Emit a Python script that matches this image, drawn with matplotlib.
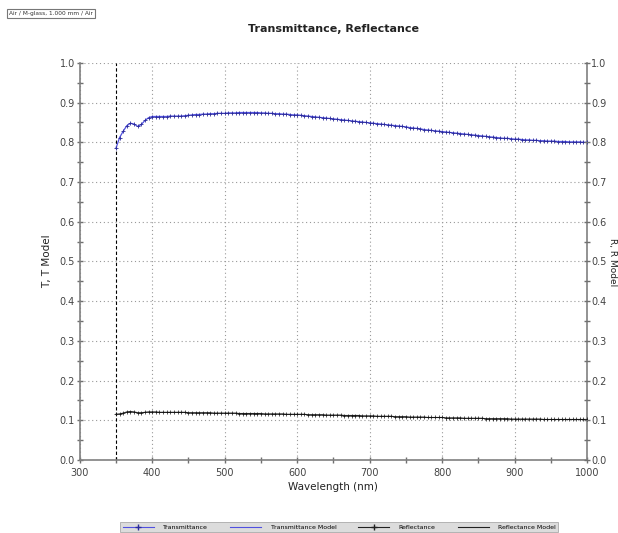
import numpy as np
import matplotlib
matplotlib.use("Agg")
import matplotlib.pyplot as plt
from matplotlib.ticker import MultipleLocator, FormatStrFormatter
from matplotlib.lines import Line2D

wavelength = np.arange(350, 1001, 5)

transmittance = [
    0.785, 0.812, 0.828, 0.842, 0.848, 0.846, 0.840, 0.845, 0.855, 0.862,
    0.865, 0.865, 0.865, 0.865, 0.865, 0.866, 0.866, 0.866, 0.866, 0.867,
    0.868, 0.869, 0.870, 0.870, 0.871, 0.871, 0.872, 0.872, 0.873, 0.873,
    0.873, 0.874, 0.874, 0.874, 0.875, 0.875, 0.875, 0.875, 0.875, 0.875,
    0.874, 0.874, 0.873, 0.873, 0.872, 0.872, 0.871, 0.871, 0.870, 0.869,
    0.869, 0.868, 0.867, 0.866, 0.865, 0.864, 0.863, 0.862, 0.861, 0.860,
    0.859, 0.858, 0.857, 0.856, 0.855, 0.854, 0.853, 0.852, 0.851, 0.850,
    0.849, 0.848, 0.847, 0.846, 0.845, 0.844, 0.843, 0.842, 0.841, 0.840,
    0.839, 0.837, 0.836, 0.835, 0.834, 0.832, 0.831, 0.830, 0.829, 0.828,
    0.827, 0.826, 0.825, 0.824, 0.823, 0.822, 0.821, 0.820, 0.819, 0.818,
    0.817, 0.816, 0.815, 0.814, 0.813, 0.812, 0.811, 0.810, 0.810, 0.809,
    0.808, 0.808, 0.807, 0.806, 0.806, 0.805, 0.805, 0.804, 0.804, 0.803,
    0.803, 0.803, 0.802, 0.802, 0.802, 0.801, 0.801, 0.801, 0.801, 0.800,
    0.800,
]

reflectance = [
    0.115, 0.116, 0.118, 0.121, 0.122, 0.121, 0.119, 0.119, 0.120, 0.121,
    0.121, 0.121, 0.120, 0.120, 0.120, 0.120, 0.120, 0.120, 0.120, 0.120,
    0.119, 0.119, 0.119, 0.119, 0.119, 0.119, 0.119, 0.118, 0.118, 0.118,
    0.118, 0.118, 0.118, 0.118, 0.117, 0.117, 0.117, 0.117, 0.117, 0.117,
    0.117, 0.116, 0.116, 0.116, 0.116, 0.116, 0.116, 0.115, 0.115, 0.115,
    0.115, 0.115, 0.115, 0.114, 0.114, 0.114, 0.114, 0.114, 0.113, 0.113,
    0.113, 0.113, 0.113, 0.112, 0.112, 0.112, 0.112, 0.112, 0.111, 0.111,
    0.111, 0.111, 0.110, 0.110, 0.110, 0.110, 0.110, 0.109, 0.109, 0.109,
    0.109, 0.108, 0.108, 0.108, 0.108, 0.108, 0.107, 0.107, 0.107, 0.107,
    0.107, 0.106, 0.106, 0.106, 0.106, 0.106, 0.105, 0.105, 0.105, 0.105,
    0.105, 0.105, 0.104, 0.104, 0.104, 0.104, 0.104, 0.104, 0.104, 0.103,
    0.103, 0.103, 0.103, 0.103, 0.103, 0.103, 0.103, 0.103, 0.102, 0.102,
    0.102, 0.102, 0.102, 0.102, 0.102, 0.102, 0.102, 0.102, 0.102, 0.102,
    0.102,
]

legend_labels = ["Transmittance", "Transmittance Model", "Reflectance", "Reflectance Model"]

fig = plt.figure(figsize=(6.18, 5.33), dpi=100)
ax = fig.add_axes([0.129, 0.137, 0.821, 0.745])

tcol = "#2a2a9a"
tmodel = "#5050e0"
ax.plot(wavelength, transmittance, color=tmodel, lw=0.9, zorder=3)
ax.plot(wavelength, transmittance, color=tcol, lw=0, marker="+", ms=3.5, mew=0.6, zorder=4)
ax.plot(wavelength, reflectance, color="#222222", lw=0.8, zorder=3)
ax.plot(wavelength, reflectance, color="#111111", lw=0, marker="+", ms=3.5, mew=0.5, zorder=4)

ax.axvline(350, color="black", ls=(0, (3, 2)), lw=0.8, zorder=2)

ax.set_xlim(300, 1000)
ax.set_ylim(0, 1.0)
ax.xaxis.set_major_locator(MultipleLocator(100))
ax.xaxis.set_minor_locator(MultipleLocator(50))
ax.yaxis.set_major_locator(MultipleLocator(0.1))
ax.yaxis.set_minor_locator(MultipleLocator(0.05))
ax.yaxis.set_major_formatter(FormatStrFormatter("%.1f"))
ax.grid(True, which="major", color="#999999", ls=(0, (1, 2.5)), lw=0.8)

ax.spines["top"].set_visible(False)
for s in ["left", "right", "bottom"]:
    ax.spines[s].set_color("#808080")
    ax.spines[s].set_linewidth(1.2)

ax.tick_params(which="both", direction="inout", colors="#707070", labelcolor="#444444",
               labelsize=7, length=5, width=1)
ax.tick_params(which="minor", length=4)
ax.tick_params(axis="y", which="both", pad=1)

ax.set_xlabel("Wavelength (nm)", fontsize=7.5, color="#222222", labelpad=3)
ax.set_ylabel("T, T Model", fontsize=7.5, color="#222222", labelpad=5)

ax2 = ax.twinx()
ax2.set_ylim(0, 1)
ax2.yaxis.set_major_locator(MultipleLocator(0.1))
ax2.yaxis.set_minor_locator(MultipleLocator(0.05))
ax2.yaxis.set_major_formatter(FormatStrFormatter("%.1f"))
for s in ax2.spines.values():
    s.set_visible(False)
ax2.tick_params(which="both", direction="inout", colors="#707070", labelcolor="#444444",
                labelsize=7, length=5, width=1, pad=0.5)
ax2.tick_params(which="minor", length=4)

fig.text(0.991, 0.509, "R, R Model", ha="center", va="center", rotation=270,
         fontsize=6.5, color="#222222")

fig.text(0.54, 0.945, "Transmittance, Reflectance", ha="center", va="center",
         fontsize=8, fontweight="bold", color="#222222")

fig.text(0.015, 0.975, "Air / M-glass, 1.000 mm / Air", ha="left", va="center",
         fontsize=4.2, color="#333333",
         bbox=dict(boxstyle="square,pad=0.35", fc="white", ec="#777777", lw=0.8))

handles = [
    Line2D([], [], color=tmodel, lw=0.8, marker="+", ms=4, mec=tcol),
    Line2D([], [], color=tmodel, lw=0.8),
    Line2D([], [], color="#222222", lw=0.8, marker="+", ms=4),
    Line2D([], [], color="#222222", lw=0.8),
]
leg = fig.legend(handles, legend_labels, loc="lower center", bbox_to_anchor=(0.549, -0.004),
                 ncol=4, fontsize=4.5, frameon=True, fancybox=False,
                 facecolor="#d4d4d4", edgecolor="#999999", handlelength=5,
                 columnspacing=3.5, borderpad=0.35, handletextpad=1.5)
leg.get_frame().set_linewidth(0.6)
fig.savefig("out.png", dpi=100)
